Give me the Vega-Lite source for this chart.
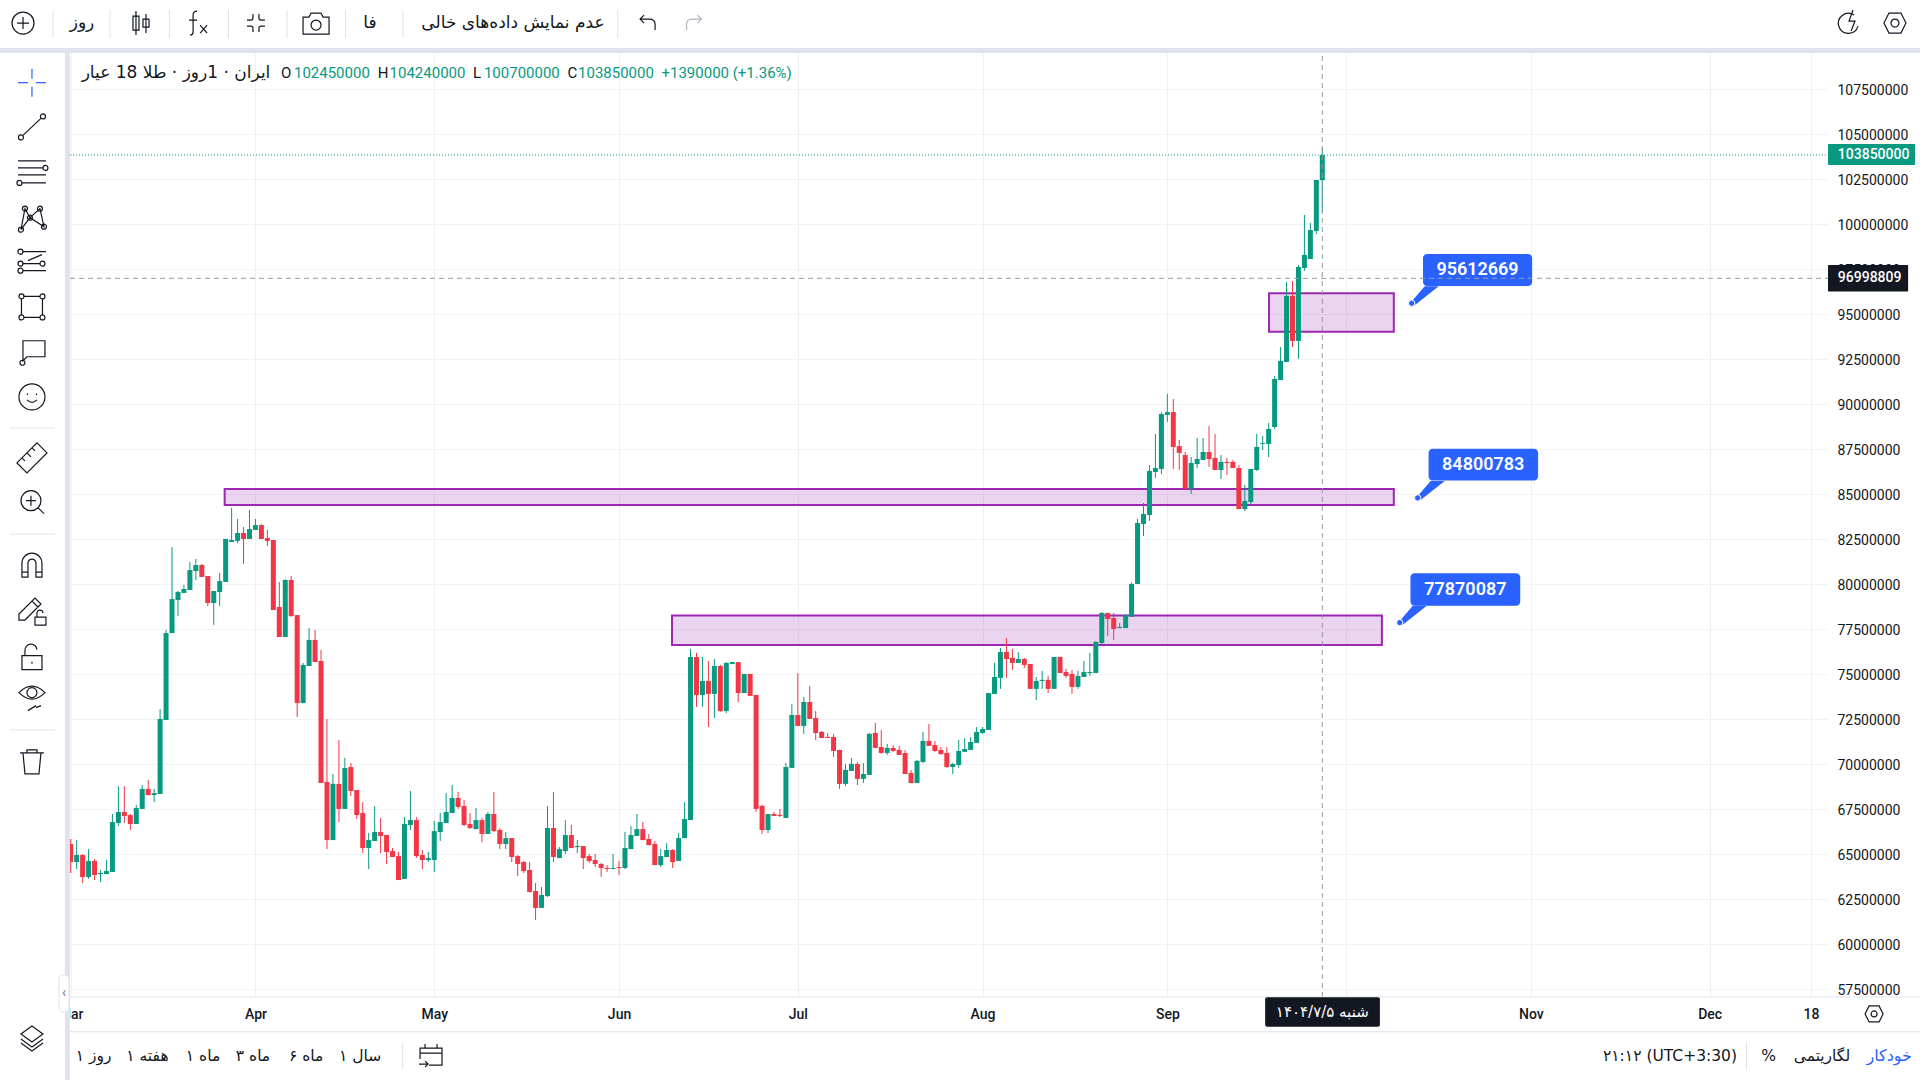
{
  "$schema": "https://vega.github.io/schema/vega-lite/v6.json",
  "autosize": {"type": "none"},
  "padding": {"left": 70, "top": 53, "right": 92, "bottom": 83},
  "width": 1758,
  "height": 944,
  "background": "white",
  "config": {"view": {"stroke": null}},
  "datasets": {
    "candles": [
      {"d":"2025-03-01","o":65570000,"h":65850000,"l":63960000,"c":64570000},
      {"d":"2025-03-02","o":64570000,"h":65790000,"l":64180000,"c":64960000},
      {"d":"2025-03-03","o":64960000,"h":65020000,"l":63400000,"c":63740000},
      {"d":"2025-03-04","o":63740000,"h":65290000,"l":63630000,"c":64630000},
      {"d":"2025-03-05","o":64630000,"h":64740000,"l":63570000,"c":63850000},
      {"d":"2025-03-06","o":63900000,"h":64130000,"l":63460000,"c":63960000},
      {"d":"2025-03-07","o":63900000,"h":64680000,"l":63900000,"c":64070000},
      {"d":"2025-03-08","o":64020000,"h":67240000,"l":64020000,"c":66790000},
      {"d":"2025-03-09","o":66740000,"h":68790000,"l":66570000,"c":67350000},
      {"d":"2025-03-10","o":67350000,"h":68790000,"l":66740000,"c":67130000},
      {"d":"2025-03-11","o":67180000,"h":67240000,"l":66350000,"c":66680000},
      {"d":"2025-03-12","o":66680000,"h":67740000,"l":66680000,"c":67570000},
      {"d":"2025-03-13","o":67520000,"h":68850000,"l":67520000,"c":68630000},
      {"d":"2025-03-14","o":68630000,"h":69130000,"l":68290000,"c":68290000},
      {"d":"2025-03-15","o":68290000,"h":68630000,"l":67900000,"c":68400000},
      {"d":"2025-03-16","o":68350000,"h":73070000,"l":68350000,"c":72520000},
      {"d":"2025-03-17","o":72460000,"h":77460000,"l":72460000,"c":77290000},
      {"d":"2025-03-18","o":77290000,"h":82070000,"l":77290000,"c":79180000},
      {"d":"2025-03-19","o":79130000,"h":79630000,"l":78240000,"c":79570000},
      {"d":"2025-03-20","o":79520000,"h":79960000,"l":79520000,"c":79740000},
      {"d":"2025-03-21","o":79680000,"h":81240000,"l":79680000,"c":80790000},
      {"d":"2025-03-22","o":80740000,"h":81410000,"l":80240000,"c":81070000},
      {"d":"2025-03-23","o":81070000,"h":81130000,"l":80410000,"c":80410000},
      {"d":"2025-03-24","o":80460000,"h":80460000,"l":78790000,"c":78960000},
      {"d":"2025-03-25","o":78960000,"h":79630000,"l":77740000,"c":79630000},
      {"d":"2025-03-26","o":79570000,"h":80630000,"l":78790000,"c":80180000},
      {"d":"2025-03-27","o":80130000,"h":82520000,"l":80130000,"c":82520000},
      {"d":"2025-03-28","o":82350000,"h":84240000,"l":82350000,"c":82460000},
      {"d":"2025-03-29","o":82410000,"h":83630000,"l":82290000,"c":82850000},
      {"d":"2025-03-30","o":82850000,"h":83180000,"l":81130000,"c":82520000},
      {"d":"2025-03-31","o":82520000,"h":84130000,"l":82520000,"c":83070000},
      {"d":"2025-04-01","o":83020000,"h":83630000,"l":83020000,"c":83290000},
      {"d":"2025-04-02","o":83290000,"h":83350000,"l":82520000,"c":82520000},
      {"d":"2025-04-03","o":82570000,"h":83020000,"l":82130000,"c":82410000},
      {"d":"2025-04-04","o":82460000,"h":82460000,"l":78570000,"c":78570000},
      {"d":"2025-04-05","o":78740000,"h":80130000,"l":77070000,"c":77070000},
      {"d":"2025-04-06","o":77070000,"h":80290000,"l":77070000,"c":80240000},
      {"d":"2025-04-07","o":80240000,"h":80460000,"l":78180000,"c":78240000},
      {"d":"2025-04-08","o":78290000,"h":78290000,"l":72630000,"c":73400000},
      {"d":"2025-04-09","o":73400000,"h":75630000,"l":73400000,"c":75520000},
      {"d":"2025-04-10","o":75460000,"h":77570000,"l":75460000,"c":76910000},
      {"d":"2025-04-11","o":76910000,"h":77460000,"l":75680000,"c":75680000},
      {"d":"2025-04-12","o":75740000,"h":76350000,"l":68960000,"c":68960000},
      {"d":"2025-04-13","o":69020000,"h":72520000,"l":65290000,"c":65790000},
      {"d":"2025-04-14","o":65790000,"h":69460000,"l":65790000,"c":68910000},
      {"d":"2025-04-15","o":68910000,"h":71350000,"l":66790000,"c":67520000},
      {"d":"2025-04-16","o":67520000,"h":70350000,"l":67520000,"c":69790000},
      {"d":"2025-04-17","o":69850000,"h":70070000,"l":68240000,"c":68520000},
      {"d":"2025-04-18","o":68570000,"h":68570000,"l":66960000,"c":67180000},
      {"d":"2025-04-19","o":67290000,"h":67900000,"l":65070000,"c":65350000},
      {"d":"2025-04-20","o":65350000,"h":66180000,"l":64180000,"c":65790000},
      {"d":"2025-04-21","o":65740000,"h":67680000,"l":65740000,"c":66240000},
      {"d":"2025-04-22","o":66240000,"h":67020000,"l":65070000,"c":66020000},
      {"d":"2025-04-23","o":66070000,"h":66070000,"l":64460000,"c":65130000},
      {"d":"2025-04-24","o":65180000,"h":65350000,"l":64850000,"c":64850000},
      {"d":"2025-04-25","o":64900000,"h":65130000,"l":63570000,"c":63570000},
      {"d":"2025-04-26","o":63630000,"h":67070000,"l":63630000,"c":66680000},
      {"d":"2025-04-27","o":66630000,"h":68520000,"l":66350000,"c":66900000},
      {"d":"2025-04-28","o":66900000,"h":67070000,"l":64790000,"c":64900000},
      {"d":"2025-04-29","o":64960000,"h":65240000,"l":64180000,"c":64680000},
      {"d":"2025-04-30","o":64680000,"h":65130000,"l":64570000,"c":64790000},
      {"d":"2025-05-01","o":64680000,"h":66850000,"l":64020000,"c":66290000},
      {"d":"2025-05-02","o":66240000,"h":67290000,"l":65740000,"c":66790000},
      {"d":"2025-05-03","o":66740000,"h":68400000,"l":66740000,"c":67350000},
      {"d":"2025-05-04","o":67290000,"h":68850000,"l":67290000,"c":68130000},
      {"d":"2025-05-05","o":68130000,"h":68460000,"l":67520000,"c":67630000},
      {"d":"2025-05-06","o":67680000,"h":68020000,"l":66570000,"c":66630000},
      {"d":"2025-05-07","o":66680000,"h":67290000,"l":66400000,"c":66460000},
      {"d":"2025-05-08","o":66400000,"h":67570000,"l":66400000,"c":66900000},
      {"d":"2025-05-09","o":66900000,"h":67020000,"l":65680000,"c":66130000},
      {"d":"2025-05-10","o":66130000,"h":67350000,"l":66130000,"c":67240000},
      {"d":"2025-05-11","o":67240000,"h":68460000,"l":66240000,"c":66290000},
      {"d":"2025-05-12","o":66350000,"h":66460000,"l":65290000,"c":65570000},
      {"d":"2025-05-13","o":65570000,"h":66240000,"l":65290000,"c":65900000},
      {"d":"2025-05-14","o":65900000,"h":65900000,"l":64570000,"c":64850000},
      {"d":"2025-05-15","o":64900000,"h":64960000,"l":63790000,"c":64460000},
      {"d":"2025-05-16","o":64570000,"h":64630000,"l":63960000,"c":64070000},
      {"d":"2025-05-17","o":64130000,"h":64570000,"l":62900000,"c":62900000},
      {"d":"2025-05-18","o":62960000,"h":63400000,"l":61350000,"c":62020000},
      {"d":"2025-05-19","o":62020000,"h":63180000,"l":62020000,"c":62740000},
      {"d":"2025-05-20","o":62680000,"h":67680000,"l":62630000,"c":66460000},
      {"d":"2025-05-21","o":66460000,"h":68460000,"l":64570000,"c":64850000},
      {"d":"2025-05-22","o":64790000,"h":65400000,"l":64790000,"c":65290000},
      {"d":"2025-05-23","o":65180000,"h":66900000,"l":65020000,"c":66070000},
      {"d":"2025-05-24","o":66070000,"h":66630000,"l":65350000,"c":65350000},
      {"d":"2025-05-25","o":65400000,"h":65790000,"l":65070000,"c":65460000},
      {"d":"2025-05-26","o":65460000,"h":65460000,"l":64180000,"c":64790000},
      {"d":"2025-05-27","o":64900000,"h":65020000,"l":64520000,"c":64630000},
      {"d":"2025-05-28","o":64680000,"h":65020000,"l":64290000,"c":64460000},
      {"d":"2025-05-29","o":64460000,"h":64520000,"l":63740000,"c":64240000},
      {"d":"2025-05-30","o":64240000,"h":64400000,"l":64020000,"c":64180000},
      {"d":"2025-05-31","o":64180000,"h":65020000,"l":64180000,"c":64240000},
      {"d":"2025-06-01","o":64290000,"h":64630000,"l":63850000,"c":64240000},
      {"d":"2025-06-02","o":64240000,"h":66240000,"l":64180000,"c":65350000},
      {"d":"2025-06-03","o":65290000,"h":66570000,"l":65290000,"c":66070000},
      {"d":"2025-06-04","o":66020000,"h":67240000,"l":66020000,"c":66400000},
      {"d":"2025-06-05","o":66400000,"h":66790000,"l":65790000,"c":65790000},
      {"d":"2025-06-06","o":65850000,"h":66130000,"l":65510000,"c":65510000},
      {"d":"2025-06-07","o":65570000,"h":65740000,"l":64400000,"c":64400000},
      {"d":"2025-06-08","o":64400000,"h":65290000,"l":64290000,"c":64900000},
      {"d":"2025-06-09","o":64850000,"h":65630000,"l":64850000,"c":65240000},
      {"d":"2025-06-10","o":65240000,"h":65290000,"l":64240000,"c":64570000},
      {"d":"2025-06-11","o":64630000,"h":66180000,"l":64630000,"c":65900000},
      {"d":"2025-06-12","o":65900000,"h":67900000,"l":65900000,"c":66960000},
      {"d":"2025-06-13","o":66910000,"h":76410000,"l":66910000,"c":75960000},
      {"d":"2025-06-14","o":75960000,"h":76190000,"l":73190000,"c":73850000},
      {"d":"2025-06-15","o":73850000,"h":75960000,"l":73190000,"c":74630000},
      {"d":"2025-06-16","o":74630000,"h":75740000,"l":72070000,"c":73910000},
      {"d":"2025-06-17","o":73910000,"h":75850000,"l":72570000,"c":75460000},
      {"d":"2025-06-18","o":75460000,"h":75520000,"l":72910000,"c":72960000},
      {"d":"2025-06-19","o":72960000,"h":75680000,"l":72850000,"c":75630000},
      {"d":"2025-06-20","o":75570000,"h":75680000,"l":75570000,"c":75680000},
      {"d":"2025-06-21","o":75680000,"h":75680000,"l":73460000,"c":73960000},
      {"d":"2025-06-22","o":73960000,"h":75020000,"l":73960000,"c":75020000},
      {"d":"2025-06-23","o":75020000,"h":75020000,"l":73800000,"c":73800000},
      {"d":"2025-06-24","o":73850000,"h":73850000,"l":67350000,"c":67520000},
      {"d":"2025-06-25","o":67690000,"h":67740000,"l":66130000,"c":66350000},
      {"d":"2025-06-26","o":66350000,"h":67240000,"l":66180000,"c":67240000},
      {"d":"2025-06-27","o":67240000,"h":67350000,"l":67130000,"c":67130000},
      {"d":"2025-06-28","o":67190000,"h":67520000,"l":67070000,"c":67130000},
      {"d":"2025-06-29","o":67020000,"h":70070000,"l":67020000,"c":69850000},
      {"d":"2025-06-30","o":69800000,"h":73350000,"l":69800000,"c":72740000},
      {"d":"2025-07-01","o":72740000,"h":75070000,"l":72130000,"c":72130000},
      {"d":"2025-07-02","o":72130000,"h":73740000,"l":71690000,"c":73460000},
      {"d":"2025-07-03","o":73460000,"h":74350000,"l":72520000,"c":72520000},
      {"d":"2025-07-04","o":72570000,"h":72960000,"l":71350000,"c":71740000},
      {"d":"2025-07-05","o":71800000,"h":71850000,"l":71460000,"c":71460000},
      {"d":"2025-07-06","o":71520000,"h":71740000,"l":71460000,"c":71460000},
      {"d":"2025-07-07","o":71520000,"h":71690000,"l":70410000,"c":70740000},
      {"d":"2025-07-08","o":70800000,"h":70800000,"l":68630000,"c":68910000},
      {"d":"2025-07-09","o":68910000,"h":70020000,"l":68800000,"c":69690000},
      {"d":"2025-07-10","o":69630000,"h":70350000,"l":69630000,"c":70020000},
      {"d":"2025-07-11","o":70020000,"h":70130000,"l":68850000,"c":69190000},
      {"d":"2025-07-12","o":69190000,"h":70070000,"l":68960000,"c":69460000},
      {"d":"2025-07-13","o":69410000,"h":71740000,"l":69410000,"c":71690000},
      {"d":"2025-07-14","o":71740000,"h":72300000,"l":70910000,"c":70910000},
      {"d":"2025-07-15","o":70960000,"h":71910000,"l":70570000,"c":70630000},
      {"d":"2025-07-16","o":70630000,"h":71130000,"l":70520000,"c":70910000},
      {"d":"2025-07-17","o":70910000,"h":71070000,"l":70690000,"c":70740000},
      {"d":"2025-07-18","o":70800000,"h":71020000,"l":70520000,"c":70520000},
      {"d":"2025-07-19","o":70630000,"h":70800000,"l":69460000,"c":69460000},
      {"d":"2025-07-20","o":69520000,"h":69690000,"l":68960000,"c":68960000},
      {"d":"2025-07-21","o":68960000,"h":70240000,"l":68960000,"c":70190000},
      {"d":"2025-07-22","o":70130000,"h":71800000,"l":70070000,"c":71300000},
      {"d":"2025-07-23","o":71300000,"h":72240000,"l":71020000,"c":71020000},
      {"d":"2025-07-24","o":71070000,"h":71300000,"l":70690000,"c":70740000},
      {"d":"2025-07-25","o":70800000,"h":70960000,"l":70520000,"c":70570000},
      {"d":"2025-07-26","o":70630000,"h":70960000,"l":69800000,"c":69850000},
      {"d":"2025-07-27","o":69850000,"h":70070000,"l":69460000,"c":70020000},
      {"d":"2025-07-28","o":69960000,"h":71350000,"l":69800000,"c":70740000},
      {"d":"2025-07-29","o":70690000,"h":71460000,"l":70690000,"c":70850000},
      {"d":"2025-07-30","o":70800000,"h":71520000,"l":70800000,"c":71240000},
      {"d":"2025-07-31","o":71190000,"h":72070000,"l":71190000,"c":71800000},
      {"d":"2025-08-01","o":71740000,"h":72070000,"l":71690000,"c":71960000},
      {"d":"2025-08-02","o":71910000,"h":73960000,"l":71910000,"c":73960000},
      {"d":"2025-08-03","o":73910000,"h":75630000,"l":73910000,"c":74850000},
      {"d":"2025-08-04","o":74800000,"h":76460000,"l":74190000,"c":76240000},
      {"d":"2025-08-05","o":76240000,"h":77020000,"l":74800000,"c":75850000},
      {"d":"2025-08-06","o":75910000,"h":76410000,"l":75240000,"c":75630000},
      {"d":"2025-08-07","o":75630000,"h":76240000,"l":75630000,"c":75850000},
      {"d":"2025-08-08","o":75850000,"h":75910000,"l":75350000,"c":75520000},
      {"d":"2025-08-09","o":75570000,"h":75570000,"l":74190000,"c":74190000},
      {"d":"2025-08-10","o":74190000,"h":74850000,"l":73570000,"c":74630000},
      {"d":"2025-08-11","o":74630000,"h":75190000,"l":74190000,"c":74690000},
      {"d":"2025-08-12","o":74690000,"h":74910000,"l":73960000,"c":74190000},
      {"d":"2025-08-13","o":74190000,"h":75960000,"l":74190000,"c":75960000},
      {"d":"2025-08-14","o":75960000,"h":75960000,"l":75070000,"c":75070000},
      {"d":"2025-08-15","o":75130000,"h":75300000,"l":74800000,"c":74910000},
      {"d":"2025-08-16","o":75020000,"h":75240000,"l":73910000,"c":74300000},
      {"d":"2025-08-17","o":74300000,"h":75190000,"l":74190000,"c":74910000},
      {"d":"2025-08-18","o":74850000,"h":75740000,"l":74850000,"c":75130000},
      {"d":"2025-08-19","o":75070000,"h":76190000,"l":74910000,"c":75130000},
      {"d":"2025-08-20","o":75070000,"h":76850000,"l":75070000,"c":76800000},
      {"d":"2025-08-21","o":76740000,"h":78460000,"l":76630000,"c":78410000},
      {"d":"2025-08-22","o":78410000,"h":78410000,"l":77130000,"c":78070000},
      {"d":"2025-08-23","o":78130000,"h":78410000,"l":76910000,"c":77520000},
      {"d":"2025-08-24","o":77570000,"h":77850000,"l":77570000,"c":77630000},
      {"d":"2025-08-25","o":77570000,"h":78350000,"l":77570000,"c":78300000},
      {"d":"2025-08-26","o":78200000,"h":80100000,"l":78200000,"c":80020000},
      {"d":"2025-08-27","o":80020000,"h":83630000,"l":80020000,"c":83410000},
      {"d":"2025-08-28","o":83350000,"h":84520000,"l":82680000,"c":83910000},
      {"d":"2025-08-29","o":83850000,"h":86630000,"l":83520000,"c":86300000},
      {"d":"2025-08-30","o":86240000,"h":88350000,"l":85910000,"c":86460000},
      {"d":"2025-08-31","o":86410000,"h":89570000,"l":86130000,"c":89460000},
      {"d":"2025-09-01","o":89410000,"h":90570000,"l":89020000,"c":89570000},
      {"d":"2025-09-02","o":89570000,"h":90300000,"l":86410000,"c":87630000},
      {"d":"2025-09-03","o":87680000,"h":88020000,"l":86350000,"c":87300000},
      {"d":"2025-09-04","o":87180000,"h":87350000,"l":85300000,"c":85300000},
      {"d":"2025-09-05","o":85300000,"h":87070000,"l":85020000,"c":86740000},
      {"d":"2025-09-06","o":86680000,"h":88130000,"l":86460000,"c":86960000},
      {"d":"2025-09-07","o":86910000,"h":88130000,"l":86910000,"c":87350000},
      {"d":"2025-09-08","o":87350000,"h":88800000,"l":86520000,"c":86960000},
      {"d":"2025-09-09","o":87020000,"h":88350000,"l":86350000,"c":86350000},
      {"d":"2025-09-10","o":86350000,"h":87180000,"l":85850000,"c":86800000},
      {"d":"2025-09-11","o":86800000,"h":87020000,"l":86070000,"c":86740000},
      {"d":"2025-09-12","o":86800000,"h":86910000,"l":86460000,"c":86460000},
      {"d":"2025-09-13","o":86460000,"h":86630000,"l":84180000,"c":84180000},
      {"d":"2025-09-14","o":84180000,"h":85520000,"l":84070000,"c":84630000},
      {"d":"2025-09-15","o":84570000,"h":86410000,"l":84460000,"c":86410000},
      {"d":"2025-09-16","o":86350000,"h":88350000,"l":86300000,"c":87630000},
      {"d":"2025-09-17","o":87800000,"h":88240000,"l":87460000,"c":87850000},
      {"d":"2025-09-18","o":87800000,"h":88960000,"l":87070000,"c":88630000},
      {"d":"2025-09-19","o":88740000,"h":91570000,"l":88630000,"c":91410000},
      {"d":"2025-09-20","o":91350000,"h":93180000,"l":91350000,"c":92410000},
      {"d":"2025-09-21","o":92350000,"h":96800000,"l":92350000,"c":96020000},
      {"d":"2025-09-22","o":96020000,"h":96850000,"l":93180000,"c":93520000},
      {"d":"2025-09-23","o":93520000,"h":97740000,"l":92520000,"c":97630000},
      {"d":"2025-09-24","o":97570000,"h":100520000,"l":97410000,"c":98300000},
      {"d":"2025-09-25","o":98070000,"h":100070000,"l":98070000,"c":99680000},
      {"d":"2025-09-26","o":99630000,"h":102460000,"l":99460000,"c":102460000},
      {"d":"2025-09-27","o":102450000,"h":104240000,"l":100700000,"c":103850000}
    ],
    "zones": [
      {"d":"2025-03-26T20:00:00Z","d2":"2025-10-09T00:00:00Z","p":85290000,"p2":84410000},
      {"d":"2025-06-09T21:30:00Z","d2":"2025-10-07T00:00:00Z","p":78260000,"p2":76630000},
      {"d":"2025-09-18T01:30:00Z","d2":"2025-10-09T00:00:00Z","p":96170000,"p2":94030000}
    ],
    "calloutDots": [
      {"d":"2025-10-12","p":95612669},
      {"d":"2025-10-13","p":84800783},
      {"d":"2025-10-10","p":77870087}
    ],
    "calloutBoxes": [
      {"d":"2025-10-13T21:30:00Z","d2":"2025-11-01T05:00:00Z","p":98350000,"p2":96570000},
      {"d":"2025-10-14T20:00:00Z","d2":"2025-11-02T05:00:00Z","p":87530000,"p2":85760000},
      {"d":"2025-10-11T19:00:00Z","d2":"2025-10-30T05:00:00Z","p":80610000,"p2":78810000}
    ],
    "calloutLabels": [
      {"t":"95612669","d":"2025-10-23T01:00:00Z","p":97460000},
      {"t":"84800783","d":"2025-10-24T00:00:00Z","p":86650000},
      {"t":"77870087","d":"2025-10-21T00:00:00Z","p":79710000}
    ],
    "crosshair": [
      {"d":"2025-09-27","d2":"2025-09-27","p":57072000,"p2":109517000},
      {"d":"2025-02-28T21:11:00Z","d2":"2025-12-20T20:24:00Z","p":96998809,"p2":96998809}
    ],
    "panels": [
      {"d":"2025-02-17T03:22:00Z","d2":"2025-02-28T01:00:00Z","p":112460000,"p2":52460000}
    ],
    "strips": [
      {"d":"2025-02-28T01:00:00Z","d2":"2025-02-28T21:11:00Z","p":109795000,"p2":52460000},
      {"d":"2025-02-17T03:22:00Z","d2":"2026-01-05T07:00:00Z","p":109795000,"p2":109517000}
    ],
    "dividers": [
      {"d":"2025-02-28T21:11:00Z","d2":"2026-01-05T07:00:00Z","p":57072000,"p2":57072000},
      {"d":"2025-02-28T21:11:00Z","d2":"2026-01-05T07:00:00Z","p":55144000,"p2":55144000},
      {"d":"2025-02-18T19:40:00Z","d2":"2025-02-26T09:00:00Z","p":88680000,"p2":88680000},
      {"d":"2025-02-18T19:40:00Z","d2":"2025-02-26T09:00:00Z","p":82790000,"p2":82790000},
      {"d":"2025-02-18T19:40:00Z","d2":"2025-02-26T09:00:00Z","p":71910000,"p2":71910000},
      {"d":"2025-02-26T00:45:00Z","d2":"2025-02-26T00:45:00Z","p":111910000,"p2":110350000},
      {"d":"2025-03-07T14:00:00Z","d2":"2025-03-07T14:00:00Z","p":111910000,"p2":110350000},
      {"d":"2025-03-17T14:00:00Z","d2":"2025-03-17T14:00:00Z","p":111910000,"p2":110350000},
      {"d":"2025-03-27T11:30:00Z","d2":"2025-03-27T11:30:00Z","p":111910000,"p2":110350000},
      {"d":"2025-04-06T07:00:00Z","d2":"2025-04-06T07:00:00Z","p":111910000,"p2":110350000},
      {"d":"2025-04-16T03:00:00Z","d2":"2025-04-16T03:00:00Z","p":111910000,"p2":110350000},
      {"d":"2025-04-25T18:00:00Z","d2":"2025-04-25T18:00:00Z","p":111910000,"p2":110350000},
      {"d":"2025-05-31T19:00:00Z","d2":"2025-05-31T19:00:00Z","p":111910000,"p2":110350000},
      {"d":"2025-04-25T17:00:00Z","d2":"2025-04-25T17:00:00Z","p":54570000,"p2":53020000},
      {"d":"2025-12-07T04:00:00Z","d2":"2025-12-07T04:00:00Z","p":54570000,"p2":53020000}
    ],
    "topText": [
      {"t":"روز","d":"2025-03-02T21:30:00Z","p":111180000},
      {"t":"فا","d":"2025-04-20T05:00:00Z","p":111180000},
      {"t":"عدم نمایش داده‌های خالی","d":"2025-05-14T05:00:00Z","p":111180000},
      {"t":"ایران · 1روز · طلا 18 عیار","d":"2025-03-18T16:00:00Z","p":108410000}
    ],
    "bottomText": [
      {"t":"روز ۱","d":"2025-03-04T20:00:00Z","p":53790000},
      {"t":"هفته ۱","d":"2025-03-13T21:00:00Z","p":53790000},
      {"t":"ماه ۱","d":"2025-03-23T05:00:00Z","p":53790000},
      {"t":"ماه ۳","d":"2025-03-31T14:00:00Z","p":53790000},
      {"t":"ماه ۶","d":"2025-04-09T12:00:00Z","p":53790000},
      {"t":"سال ۱","d":"2025-04-18T13:00:00Z","p":53790000},
      {"t":"لگاریتمی","d":"2025-12-19T20:00:00Z","p":53790000},
      {"t":"%","d":"2025-12-10T21:00:00Z","p":53790000},
      {"t":"۲۱:۱۲ (UTC+3:30)","d":"2025-11-24T08:00:00Z","p":53790000}
    ],
    "ohlcKeys": [
      {"t":"O","d":"2025-04-05T07:00:00Z","p":108410000},
      {"t":"H","d":"2025-04-21T12:00:00Z","p":108410000},
      {"t":"L","d":"2025-05-07T12:00:00Z","p":108410000},
      {"t":"C","d":"2025-05-23T09:00:00Z","p":108410000}
    ],
    "ohlcValues": [
      {"t":"102450000","d":"2025-04-07T11:00:00Z","p":108410000},
      {"t":"104240000","d":"2025-04-23T12:00:00Z","p":108410000},
      {"t":"100700000","d":"2025-05-09T08:00:00Z","p":108410000},
      {"t":"103850000","d":"2025-05-25T03:00:00Z","p":108410000},
      {"t":"+1390000 (+1.36%)","d":"2025-06-08T03:00:00Z","p":108410000}
    ],
    "icons": [
      {"icon":"plus","d":"2025-02-21T00:00:00Z","p":111180000},
      {"icon":"candle","d":"2025-03-12T19:00:00Z","p":111180000},
      {"icon":"fx","d":"2025-03-22T09:00:00Z","p":111180000},
      {"icon":"full","d":"2025-04-01T02:00:00Z","p":111180000},
      {"icon":"camera","d":"2025-04-11T04:00:00Z","p":111180000},
      {"icon":"undo","d":"2025-06-05T17:00:00Z","p":111180000},
      {"icon":"bolt","d":"2025-12-24T05:00:00Z","p":111180000},
      {"icon":"hexbig","d":"2026-01-01T02:00:00Z","p":111180000},
      {"icon":"line","d":"2025-02-22T12:00:00Z","p":105410000},
      {"icon":"fib","d":"2025-02-22T12:00:00Z","p":102910000},
      {"icon":"xabcd","d":"2025-02-22T12:00:00Z","p":100370000},
      {"icon":"fork","d":"2025-02-22T12:00:00Z","p":97870000},
      {"icon":"rect","d":"2025-02-22T12:00:00Z","p":95410000},
      {"icon":"note","d":"2025-02-22T12:00:00Z","p":92920000},
      {"icon":"smile","d":"2025-02-22T12:00:00Z","p":90410000},
      {"icon":"ruler","d":"2025-02-22T12:00:00Z","p":87020000},
      {"icon":"zoom","d":"2025-02-22T12:00:00Z","p":84590000},
      {"icon":"magnet","d":"2025-02-22T12:00:00Z","p":81070000},
      {"icon":"pencil","d":"2025-02-22T12:00:00Z","p":78570000},
      {"icon":"lock","d":"2025-02-22T12:00:00Z","p":75980000},
      {"icon":"eye","d":"2025-02-22T12:00:00Z","p":73760000},
      {"icon":"trash","d":"2025-02-22T12:00:00Z","p":70140000},
      {"icon":"layers","d":"2025-02-22T12:00:00Z","p":54850000},
      {"icon":"calendar","d":"2025-04-30T11:00:00Z","p":53790000},
      {"icon":"hex","d":"2025-12-28T14:00:00Z","p":56130000}
    ]
  },
  "encoding": {
    "x": {
      "field": "d",
      "type": "temporal",
      "title": null,
      "scale": {"type": "utc", "padding": 0, "domain": [{"year":2025,"month":2,"date":28,"hours":21,"minutes":11,"utc":true},{"year":2025,"month":12,"date":20,"hours":20,"minutes":24,"utc":true}], "nice": false},
      "axis": {
        "orient": "bottom",
        "values": [
          {"year":2025,"month":3,"date":1,"utc":true},{"year":2025,"month":4,"date":1,"utc":true},{"year":2025,"month":5,"date":1,"utc":true},
          {"year":2025,"month":6,"date":1,"utc":true},{"year":2025,"month":7,"date":1,"utc":true},{"year":2025,"month":8,"date":1,"utc":true},
          {"year":2025,"month":9,"date":1,"utc":true},{"year":2025,"month":10,"date":1,"utc":true},{"year":2025,"month":11,"date":1,"utc":true},
          {"year":2025,"month":12,"date":1,"utc":true},{"year":2025,"month":12,"date":18,"utc":true}
        ],
        "labelExpr": "utcmonth(datum.value) == 9 ? '' : utcdate(datum.value) == 1 ? utcFormat(datum.value, '%b') : utcFormat(datum.value, '%-d')",
        "domain": false,
        "ticks": false,
        "grid": true,
        "gridColor": "#eff0f4",
        "labelFont": "Roboto",
        "labelFontSize": 14,
        "labelFontWeight": 500,
        "labelColor": "#131722",
        "labelBaseline": "middle",
        "labelPadding": 17,
        "labelOverlap": false,
        "labelFlush": false
      }
    },
    "y": {
      "field": "p",
      "type": "quantitative",
      "title": null,
      "scale": {"domain": [57072000, 109517000], "nice": false, "zero": false},
      "axis": {
        "orient": "right",
        "values": [57500000,60000000,62500000,65000000,67500000,70000000,72500000,75000000,77500000,80000000,82500000,85000000,87500000,90000000,92500000,95000000,97500000,100000000,102500000,105000000,107500000],
        "format": "d",
        "domain": false,
        "ticks": false,
        "grid": true,
        "gridColor": "#f2f3f6",
        "labelFont": "Roboto",
        "labelFontSize": 14,
        "labelColor": "#131722",
        "labelAlign": "left",
        "labelBaseline": "middle",
        "labelPadding": 9,
        "labelOffset": 1,
        "labelOverlap": false,
        "labelFlush": false
      }
    }
  },
  "layer": [
    {
      "data": {"name": "zones"},
      "mark": {"type": "rect", "fill": "#9c27b0", "fillOpacity": 0.2, "stroke": "#9c27b0", "strokeWidth": 2},
      "encoding": {"x2": {"field": "d2"}, "y2": {"field": "p2"}}
    },
    {
      "data": {"name": "candles"},
      "mark": {"type": "rule", "strokeWidth": 1},
      "encoding": {
        "y": {"field": "l", "type": "quantitative", "title": null, "scale": {"domain": [57072000, 109517000], "nice": false, "zero": false}},
        "y2": {"field": "h"},
        "color": {"condition": {"test": "datum.c >= datum.o", "value": "#089981"}, "value": "#f23645"}
      }
    },
    {
      "data": {"name": "candles"},
      "mark": {"type": "bar", "size": 5},
      "encoding": {
        "y": {"field": "o", "type": "quantitative", "title": null, "scale": {"domain": [57072000, 109517000], "nice": false, "zero": false}},
        "y2": {"field": "c"},
        "color": {"condition": {"test": "datum.c >= datum.o", "value": "#089981"}, "value": "#f23645"}
      }
    },
    {
      "data": {"values": [{"d":"2025-02-28T21:11:00Z","d2":"2025-12-20T20:24:00Z","p":103850000,"p2":103850000}]},
      "mark": {"type": "rule", "color": "#089981", "strokeDash": [1, 2], "strokeWidth": 1},
      "encoding": {"x2": {"field": "d2"}, "y2": {"field": "p2"}}
    },
    {
      "data": {"name": "calloutDots"},
      "mark": {"type": "point", "shape": "M1 -3L13 -17H27L3 2Z", "size": 4, "filled": true, "color": "#2962ff", "opacity": 1}
    },
    {
      "data": {"name": "calloutBoxes"},
      "mark": {"type": "rect", "fill": "#2962ff", "cornerRadius": 4},
      "encoding": {"x2": {"field": "d2"}, "y2": {"field": "p2"}}
    },
    {
      "data": {"name": "calloutLabels"},
      "mark": {"type": "text", "font": "Roboto", "fontSize": 18, "fontWeight": 600, "color": "#ffffff", "align": "center", "baseline": "middle"},
      "encoding": {"text": {"field": "t"}}
    },
    {
      "data": {"name": "calloutDots"},
      "mark": {"type": "point", "shape": "circle", "size": 40, "filled": true, "fill": "#2962ff", "stroke": "#ffffff", "strokeWidth": 1, "opacity": 1}
    },
    {
      "data": {"name": "crosshair"},
      "mark": {"type": "rule", "color": "#9598a1", "strokeDash": [5, 4], "strokeWidth": 1},
      "encoding": {"x2": {"field": "d2"}, "y2": {"field": "p2"}}
    },
    {
      "data": {"name": "panels"},
      "mark": {"type": "rect", "fill": "#ffffff"},
      "encoding": {"x2": {"field": "d2"}, "y2": {"field": "p2"}}
    },
    {
      "data": {"name": "strips"},
      "mark": {"type": "rect", "fill": "#e0e3eb"},
      "encoding": {"x2": {"field": "d2"}, "y2": {"field": "p2"}}
    },
    {
      "data": {"name": "dividers"},
      "mark": {"type": "rule", "color": "#e0e3eb", "strokeWidth": 1},
      "encoding": {"x2": {"field": "d2"}, "y2": {"field": "p2"}}
    },
    {
      "data": {"values": [{"d":"2025-02-27T01:00:00Z","d2":"2025-02-28T17:00:00Z","p":58290000,"p2":56240000}]},
      "mark": {"type": "rect", "fill": "#ffffff", "stroke": "#e0e3eb", "cornerRadius": 4},
      "encoding": {"x2": {"field": "d2"}, "y2": {"field": "p2"}}
    },
    {
      "data": {"values": [{"t":"‹","d":"2025-02-27T21:00:00Z","p":57270000}]},
      "mark": {"type": "text", "font": "Roboto", "fontSize": 14, "color": "#787b86", "align": "center", "baseline": "middle"},
      "encoding": {"text": {"field": "t"}}
    },
    {
      "data": {"values": [{"d":"2025-12-20T20:24:00Z","d2":"2026-01-04T11:00:00Z","p":104460000,"p2":103290000}]},
      "mark": {"type": "rect", "fill": "#089981", "cornerRadius": 1},
      "encoding": {"x2": {"field": "d2"}, "y2": {"field": "p2"}}
    },
    {
      "data": {"values": [{"d":"2025-12-20T20:24:00Z","d2":"2026-01-03T07:00:00Z","p":97740000,"p2":96260000}]},
      "mark": {"type": "rect", "fill": "#131722", "cornerRadius": 1},
      "encoding": {"x2": {"field": "d2"}, "y2": {"field": "p2"}}
    },
    {
      "data": {"values": [{"d":"2025-09-17T10:00:00Z","d2":"2025-10-06T16:00:00Z","p":57055000,"p2":55420000}]},
      "mark": {"type": "rect", "fill": "#131722", "cornerRadius": 2},
      "encoding": {"x2": {"field": "d2"}, "y2": {"field": "p2"}}
    },
    {
      "data": {"values": [{"t":"103850000","d":"2025-12-22T12:00:00Z","p":103850000},{"t":"96998809","d":"2025-12-22T12:00:00Z","p":96998809}]},
      "mark": {"type": "text", "font": "Roboto", "fontSize": 14, "fontWeight": 500, "color": "#ffffff", "align": "left", "baseline": "middle"},
      "encoding": {"text": {"field": "t"}}
    },
    {
      "data": {"values": [{"t":"شنبه ۱۴۰۴/۷/۵","d":"2025-09-27T00:00:00Z","p":56240000}]},
      "mark": {"type": "text", "font": "DejaVu Sans", "fontSize": 15, "color": "#ffffff", "align": "center", "baseline": "middle"},
      "encoding": {"text": {"field": "t"}}
    },
    {
      "data": {"name": "topText"},
      "mark": {"type": "text", "font": "DejaVu Sans", "fontSize": 17, "color": "#131722", "align": "center", "baseline": "middle"},
      "encoding": {"text": {"field": "t"}}
    },
    {
      "data": {"name": "bottomText"},
      "mark": {"type": "text", "font": "DejaVu Sans", "fontSize": 15.5, "color": "#131722", "align": "center", "baseline": "middle"},
      "encoding": {"text": {"field": "t"}}
    },
    {
      "data": {"values": [{"t":"خودکار","d":"2025-12-31T03:00:00Z","p":53790000}]},
      "mark": {"type": "text", "font": "DejaVu Sans", "fontSize": 16, "color": "#2962ff", "align": "center", "baseline": "middle"},
      "encoding": {"text": {"field": "t"}}
    },
    {
      "data": {"name": "ohlcKeys"},
      "mark": {"type": "text", "font": "Roboto", "fontSize": 15, "color": "#131722", "align": "left", "baseline": "middle"},
      "encoding": {"text": {"field": "t"}}
    },
    {
      "data": {"name": "ohlcValues"},
      "mark": {"type": "text", "font": "Roboto", "fontSize": 15, "color": "#089981", "align": "left", "baseline": "middle"},
      "encoding": {"text": {"field": "t"}}
    },
    {
      "data": {"name": "icons"},
      "mark": {"type": "point", "size": 4, "filled": false, "color": "#131722", "strokeWidth": 1.2, "opacity": 1},
      "encoding": {
        "shape": {
          "field": "icon",
          "type": "nominal",
          "legend": null,
          "scale": {
            "domain": ["plus","candle","fx","full","camera","undo","bolt","hexbig","line","fib","xabcd","fork","rect","note","smile","ruler","zoom","magnet","pencil","lock","eye","trash","layers","calendar","hex"],
            "range": [
              "M-11 0A11 11 0 1 1 11 0A11 11 0 1 1 -11 0M-6 0H6M0 -6V6",
              "M-5 -12V12M-8 -7H-2V7H-8ZM5 -9V10M2 -4H8V4H2Z",
              "M-1 -12C-4 -12 -5 -10 -5 -8V9C-5 11 -6 12 -8 12M-9 -3H-1M2 2L9 10M9 2L2 10",
              "M-9 -3H-5Q-3 -3 -3 -5V-9M9 -3H5Q3 -3 3 -5V-9M-9 3H-5Q-3 3 -3 5V9M9 3H5Q3 3 3 5V9",
              "M-13 -6H-7L-5 -10H5L7 -6H13V11H-13ZM-5 2A5 5 0 1 0 5 2A5 5 0 1 0 -5 2",
              "M8 7V1C8 -3 5 -4 2 -4H-7M-3 -8L-7 -4L-3 0",
              "M6 -8A10 10 0 1 0 10 3M5 -13L1 -2H7L3 8",
              "M-11 0L-6 -10H6L11 0L6 10H-6ZM-4 0A4 4 0 1 0 4 0A4 4 0 1 0 -4 0",
              "M-13.5 10.5a2.5 2.5 0 1 0 5 0a2.5 2.5 0 1 0 -5 0M8.5 -10.5a2.5 2.5 0 1 0 5 0a2.5 2.5 0 1 0 -5 0M-9 8.5L9 -8.5",
              "M-14 -11H14M-14 -4H11M-14 3H14M-10 11H14M11 -4a2.5 2.5 0 1 0 5 0a2.5 2.5 0 1 0 -5 0M-15 11a2.5 2.5 0 1 0 5 0a2.5 2.5 0 1 0 -5 0",
              "M-11 12L-7 -9L-2 0L8 -9L12 9L-2 0L-11 12M-9.5 -9a2.5 2.5 0 1 0 5 0a2.5 2.5 0 1 0 -5 0M5.5 -9a2.5 2.5 0 1 0 5 0a2.5 2.5 0 1 0 -5 0M-4.5 0a2.5 2.5 0 1 0 5 0a2.5 2.5 0 1 0 -5 0M-13.5 12a2.5 2.5 0 1 0 5 0a2.5 2.5 0 1 0 -5 0M9.5 9a2.5 2.5 0 1 0 5 0a2.5 2.5 0 1 0 -5 0",
              "M-9 -11H14M-9 1H8M-9 8H14M-4 -2L10 -8M-14 -11a2.5 2.5 0 1 0 5 0a2.5 2.5 0 1 0 -5 0M-14 1a2.5 2.5 0 1 0 5 0a2.5 2.5 0 1 0 -5 0M-14 8a2.5 2.5 0 1 0 5 0a2.5 2.5 0 1 0 -5 0M8 1a2.5 2.5 0 1 0 5 0a2.5 2.5 0 1 0 -5 0",
              "M-8.5 -10.5H8.5M-10.5 -8.5V8.5M10.5 -8.5V8.5M-8.5 10.5H8.5M-13 -10.5a2.5 2.5 0 1 0 5 0a2.5 2.5 0 1 0 -5 0M8 -10.5a2.5 2.5 0 1 0 5 0a2.5 2.5 0 1 0 -5 0M-13 10.5a2.5 2.5 0 1 0 5 0a2.5 2.5 0 1 0 -5 0M8 10.5a2.5 2.5 0 1 0 5 0a2.5 2.5 0 1 0 -5 0",
              "M-9 -11H13V5H-5L-9 9ZM-12 11a2.5 2.5 0 1 0 5 0a2.5 2.5 0 1 0 -5 0",
              "M-13 0A13 13 0 1 1 13 0A13 13 0 1 1 -13 0M-5 3Q0 8 5 3M-4.5 -3.5V-2M4.5 -3.5V-2",
              "M-15 5L5 -15L15 -5L-5 15ZM-10 0L-7 3M-5 -5L-1 -1M0 -10L3 -7M5 -15L9 -11",
              "M-11 -1A10 10 0 1 1 9 -1A10 10 0 1 1 -11 -1M6 6L12 12M-6 -1H4M-1 -6V4",
              "M-10 12V-2A10 10 0 0 1 10 -2V12H4V-2A4 4 0 0 0 -4 -2V12ZM-10 7H-4M4 7H10",
              "M-13 10L-13 4L3 -12L9 -6L-7 10ZM0 -9L6 -3M3 7H14V15H3ZM5 7V3A3 3 0 0 1 11 3",
              "M-10 -1H10V13H-10ZM-7 -1V-6A6 6 0 0 1 5 -7M0 5V7",
              "M-13 -4Q0 -17 13 -4Q0 9 -13 -4ZM-5 -4A5 5 0 1 0 5 -4A5 5 0 1 0 -5 -4M-4 14L4 9M4 11L9 9",
              "M-12 -9H12M-9 -9L-7 12H7L9 -9M-5 -9V-12H5V-9",
              "M0 -11L11 -3L0 5L-11 -3ZM-11 2L0 10L11 2M-11 6L0 14L11 6",
              "M-2 9H11V-8H-11V3M-11 -3H11M-6 -12V-8M6 -12V-8M-12 8H-3M-6 5L-3 8L-6 11",
              "M-9 0L-5 -8H5L9 0L5 8H-5ZM-3 0A3 3 0 1 0 3 0A3 3 0 1 0 -3 0"
            ]
          }
        }
      }
    },
    {
      "data": {"values": [{"d":"2025-02-22T12:00:00Z","p":107870000}]},
      "mark": {"type": "point", "shape": "M-14 0H-4M4 0H14M0 -14V-4M0 4V14", "size": 4, "filled": false, "color": "#2962ff", "strokeWidth": 1.2, "opacity": 1}
    },
    {
      "data": {"values": [{"d":"2025-06-13T16:00:00Z","p":111180000}]},
      "mark": {"type": "point", "shape": "M-8 7V1C-8 -3 -5 -4 -2 -4H7M3 -8L7 -4L3 0", "size": 4, "filled": false, "color": "#b2b5be", "strokeWidth": 1.2, "opacity": 1}
    }
  ]
}
